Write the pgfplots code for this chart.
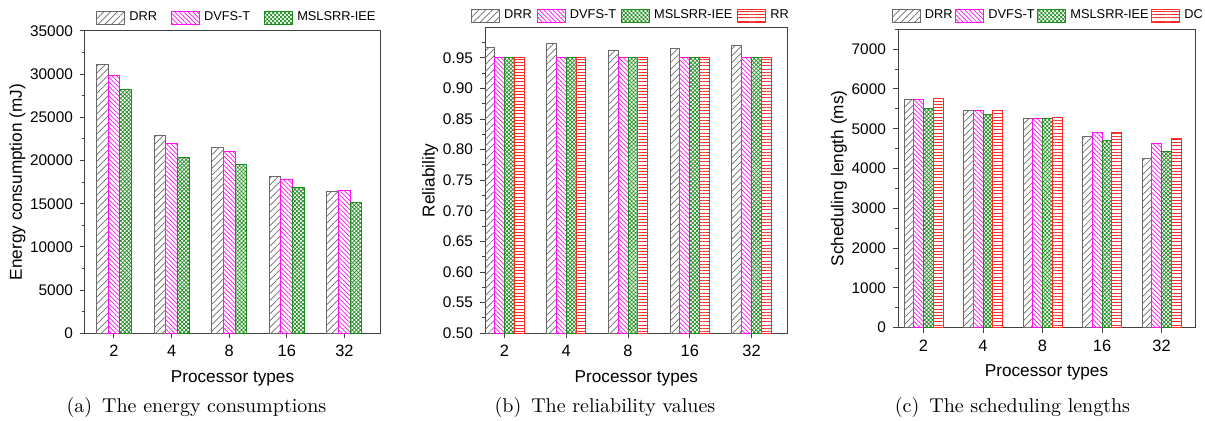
\documentclass[border=0pt]{standalone}
\usepackage{pgfplots}
\pgfplotsset{compat=1.18}
\usepackage{fontspec}
\newfontfamily\arial{Liberation Sans}
\usetikzlibrary{patterns,patterns.meta}

\definecolor{cDRR}{HTML}{6A6A6A}
\definecolor{cDV}{HTML}{FF10F0}
\definecolor{cMS}{HTML}{1E8C1E}
\definecolor{cRR}{HTML}{FF2A2A}

\pgfplotsset{
 drr/.style={draw=cDRR, line width=0.5pt, pattern={Lines[angle=45,distance=2.4pt,line width=0.35pt]}, pattern color=cDRR},
 dv/.style={draw=cDV, line width=0.5pt, pattern={Lines[angle=-45,distance=1.6pt,line width=0.35pt]}, pattern color=cDV},
 ms/.style={draw=cMS, line width=0.5pt, pattern={Hatch[angle=45,distance=1.4pt,line width=0.35pt]}, pattern color=cMS},
 rr/.style={draw=cRR, line width=0.5pt, pattern={Lines[angle=0,distance=1.6pt,line width=0.35pt]}, pattern color=cRR},
 myaxis/.style={
  scale only axis,
  anchor=south west,
  ybar=0pt,
  axis line style={black!75, line width=0.5pt},
  tick style={black!75, line width=0.5pt},
  tick align=outside,
  xtick pos=left, ytick pos=left,
  major tick length=2.5pt, minor tick length=1.5pt,
  xtick={0,1,2,3,4}, xticklabels={2,4,8,16,32},
  scaled y ticks=false,
  x tick label style={font=\arial\fontsize{8.2}{9}\selectfont},
  y tick label style={font=\arial\fontsize{7.7}{9}\selectfont},
  /pgf/number format/assume math mode=true,
  /pgf/number format/1000 sep={},
  label style={font=\arial\fontsize{8.6}{10}\selectfont},
  ylabel style={yshift=-4.5pt},
  xlabel={Processor types},
  legend style={draw=none, fill=none, font=\arial\fontsize{6.4}{7}\selectfont,
    legend columns=-1, anchor=west, inner sep=0pt, nodes={inner xsep=1pt, inner ysep=0pt}},
  legend image code/.code={\draw[#1] (0pt,-3.2pt) rectangle (14pt,3.2pt); \path (15pt,0pt);},
 }
}

\begin{document}
\begin{tikzpicture}
\useasboundingbox (0,0) rectangle (602.5pt,210.5pt);

% (a)
\begin{axis}[myaxis,
  at={(42.5pt,43.85pt)}, width=147.5pt, height=151.15pt,
  xmin=-0.503, xmax=4.618, ymin=0, ymax=35000,
  ytick={0,5000,...,35000}, minor ytick={2500,7500,...,32500},
  bar width=5.85pt,
  ylabel={Energy consumption (mJ)},
  legend style={at={(0.037,1.043)}, /tikz/every even column/.append style={column sep=6pt}},
]
\addplot[drr] coordinates {(0,31100) (1,22900) (2,21500) (3,18100) (4,16400)};
\addplot[dv] coordinates {(0,29800) (1,22000) (2,21100) (3,17800) (4,16550)};
\addplot[ms] coordinates {(0,28200) (1,20300) (2,19560) (3,16860) (4,15100)};
\legend{DRR,DVFS-T,MSLSRR-IEE}
\end{axis}

% (b)
\begin{axis}[myaxis,
  at={(242.5pt,43.85pt)}, width=151.35pt, height=153pt,
  xmin=-0.316, xmax=4.586, ymin=0.5, ymax=1.0,
  ytick={0.50,0.55,0.60,0.65,0.70,0.75,0.80,0.85,0.90,0.95},
  minor ytick={0.525,0.575,0.625,0.675,0.725,0.775,0.825,0.875,0.925,0.975},
  yticklabel style={/pgf/number format/.cd, fixed, fixed zerofill, precision=2},
  bar width=4.9pt,
  ylabel={Reliability},
  legend style={at={(-0.047,1.037)}, /tikz/every even column/.append style={column sep=1.5pt}},
]
\addplot[drr] coordinates {(0,0.967) (1,0.974) (2,0.962) (3,0.966) (4,0.970)};
\addplot[dv] coordinates {(0,0.95) (1,0.95) (2,0.95) (3,0.95) (4,0.95)};
\addplot[ms] coordinates {(0,0.95) (1,0.95) (2,0.95) (3,0.95) (4,0.95)};
\addplot[rr] coordinates {(0,0.95) (1,0.95) (2,0.95) (3,0.95) (4,0.95)};
\legend{DRR,DVFS-T,MSLSRR-IEE,RR}
\end{axis}

% (c)
\begin{axis}[myaxis,
  at={(449pt,46.65pt)}, width=148.5pt, height=149.2pt,
  xmin=-0.429, xmax=4.563, ymin=0, ymax=7500,
  ytick={0,1000,...,7000}, minor ytick={500,1500,...,7500},
  bar width=4.875pt,
  ylabel={Scheduling length (ms)},
  legend style={at={(-0.022,1.045)}, /tikz/every even column/.append style={column sep=0.4pt}},
]
\addplot[drr] coordinates {(0,5740) (1,5450) (2,5270) (3,4810) (4,4240)};
\addplot[dv] coordinates {(0,5740) (1,5470) (2,5270) (3,4900) (4,4640)};
\addplot[ms] coordinates {(0,5520) (1,5350) (2,5250) (3,4710) (4,4440)};
\addplot[rr] coordinates {(0,5750) (1,5470) (2,5290) (3,4900) (4,4750)};
\legend{DRR,DVFS-T,MSLSRR-IEE,DC}
\end{axis}

\node[font=\fontsize{10}{12}\selectfont] at (98.25pt,6.5pt) {(a)\, The energy consumptions};
\node[font=\fontsize{10}{12}\selectfont] at (302.5pt,6.5pt) {(b)\, The reliability values};
\node[font=\fontsize{10}{12}\selectfont] at (506.25pt,6.5pt) {(c)\, The scheduling lengths};
\end{tikzpicture}
\end{document}
